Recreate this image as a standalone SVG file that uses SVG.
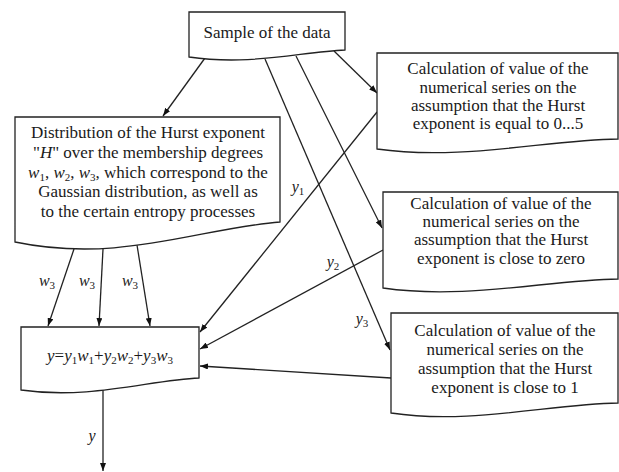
<svg xmlns="http://www.w3.org/2000/svg" width="619" height="472" viewBox="0 0 619 472">
<style>
.box{fill:#fff;stroke:#222;stroke-width:1.3}
.c{fill:none;stroke:#222;stroke-width:1.3}
.t{font-family:"Liberation Serif","Times New Roman",serif;font-size:17px;fill:#1a1a1a;text-anchor:middle}
.l{font-family:"Liberation Serif","Times New Roman",serif;font-size:16px;fill:#1a1a1a;text-anchor:middle}
.i{font-style:italic}
.s{font-size:11px}
</style>
<defs>
<marker id="ah" markerUnits="userSpaceOnUse" markerWidth="8" markerHeight="6" refX="8" refY="3" orient="auto">
<path d="M0,0 L8,3 L0,6 z" fill="#111"/>
</marker>
</defs>
<rect width="619" height="472" fill="#fff"/>

<g id="connectors">
<line class="c" x1="205" y1="58" x2="163" y2="116" marker-end="url(#ah)"/>
<line class="c" x1="265" y1="59" x2="390" y2="350" marker-end="url(#ah)"/>
<line class="c" x1="296" y1="56" x2="382" y2="228" marker-end="url(#ah)"/>
<line class="c" x1="334" y1="51" x2="377" y2="93" marker-end="url(#ah)"/>
<line class="c" x1="377" y1="112" x2="200" y2="332" marker-end="url(#ah)"/>
<line class="c" x1="383" y1="250" x2="200" y2="349" marker-end="url(#ah)"/>
<line class="c" x1="391" y1="378" x2="200" y2="366" marker-end="url(#ah)"/>
<line class="c" x1="74" y1="249" x2="48" y2="326" marker-end="url(#ah)"/>
<line class="c" x1="103" y1="249" x2="99" y2="326" marker-end="url(#ah)"/>
<line class="c" x1="137" y1="245" x2="150" y2="326" marker-end="url(#ah)"/>
<line class="c" x1="103" y1="389" x2="103" y2="471" marker-end="url(#ah)"/>
<text class="l" x="298" y="192"><tspan class="i">y</tspan><tspan class="s" dy="3">1</tspan></text>
<text class="l" x="333" y="267"><tspan class="i">y</tspan><tspan class="s" dy="3">2</tspan></text>
<text class="l" x="362" y="324"><tspan class="i">y</tspan><tspan class="s" dy="3">3</tspan></text>
<text class="l" x="47" y="286"><tspan class="i">w</tspan><tspan class="s" dy="3">3</tspan></text>
<text class="l" x="87" y="286"><tspan class="i">w</tspan><tspan class="s" dy="3">3</tspan></text>
<text class="l" x="130" y="286"><tspan class="i">w</tspan><tspan class="s" dy="3">3</tspan></text>
<text class="l i" x="92" y="441">y</text>
</g>

<g id="sample">
<path class="box" d="M189,12 H345 V50 C300,52 250,66 189,57 Z"/>
<text class="t" x="267" y="38">Sample of the data</text>
</g>

<g id="distribution">
<path class="box" d="M15,117 H280 V222 C200,228 120,264 15,242 Z"/>
<text class="t" x="148" y="138">Distribution of the Hurst exponent</text>
<text class="t" x="148" y="158">"<tspan class="i">H</tspan>" over the membership degrees</text>
<text class="t" x="148" y="178"><tspan class="i">w</tspan><tspan class="s" dy="3">1</tspan><tspan dy="-3">, </tspan><tspan class="i">w</tspan><tspan class="s" dy="3">2</tspan><tspan dy="-3">, </tspan><tspan class="i">w</tspan><tspan class="s" dy="3">3</tspan><tspan dy="-3">, which correspond to the</tspan></text>
<text class="t" x="148" y="197">Gaussian distribution, as well as</text>
<text class="t" x="148" y="217">to the certain entropy processes</text>
</g>

<g id="calc1">
<path class="box" d="M377,53 H618 V139 C546,140 461,161 377,149 Z"/>
<text class="t" x="498" y="74">Calculation of value of the</text>
<text class="t" x="498" y="93">numerical series on the</text>
<text class="t" x="498" y="111">assumption that the Hurst</text>
<text class="t" x="498" y="129">exponent is equal to 0...5</text>
</g>

<g id="calc2">
<path class="box" d="M383,192 H618 V279 C548,280 465,300 383,288 Z"/>
<text class="t" x="501" y="209">Calculation of value of the</text>
<text class="t" x="501" y="227">numerical series on the</text>
<text class="t" x="501" y="245">assumption that the Hurst</text>
<text class="t" x="501" y="264">exponent is close to zero</text>
</g>

<g id="calc3">
<path class="box" d="M391,313 H618 V403 C550,404 470,425 391,413 Z"/>
<text class="t" x="505" y="336">Calculation of value of the</text>
<text class="t" x="505" y="355">numerical series on the</text>
<text class="t" x="505" y="374">assumption that the Hurst</text>
<text class="t" x="505" y="393">exponent is close to 1</text>
</g>

<g id="sum">
<path class="box" d="M21,327 H199 V378 C150,380 90,400 21,390 Z"/>
<text class="t" x="110" y="361"><tspan class="i">y</tspan>=<tspan class="i">y</tspan><tspan class="s" dy="3">1</tspan><tspan class="i" dy="-3">w</tspan><tspan class="s" dy="3">1</tspan><tspan dy="-3">+</tspan><tspan class="i">y</tspan><tspan class="s" dy="3">2</tspan><tspan class="i" dy="-3">w</tspan><tspan class="s" dy="3">2</tspan><tspan dy="-3">+</tspan><tspan class="i">y</tspan><tspan class="s" dy="3">3</tspan><tspan class="i" dy="-3">w</tspan><tspan class="s" dy="3">3</tspan></text>
</g>
</svg>
